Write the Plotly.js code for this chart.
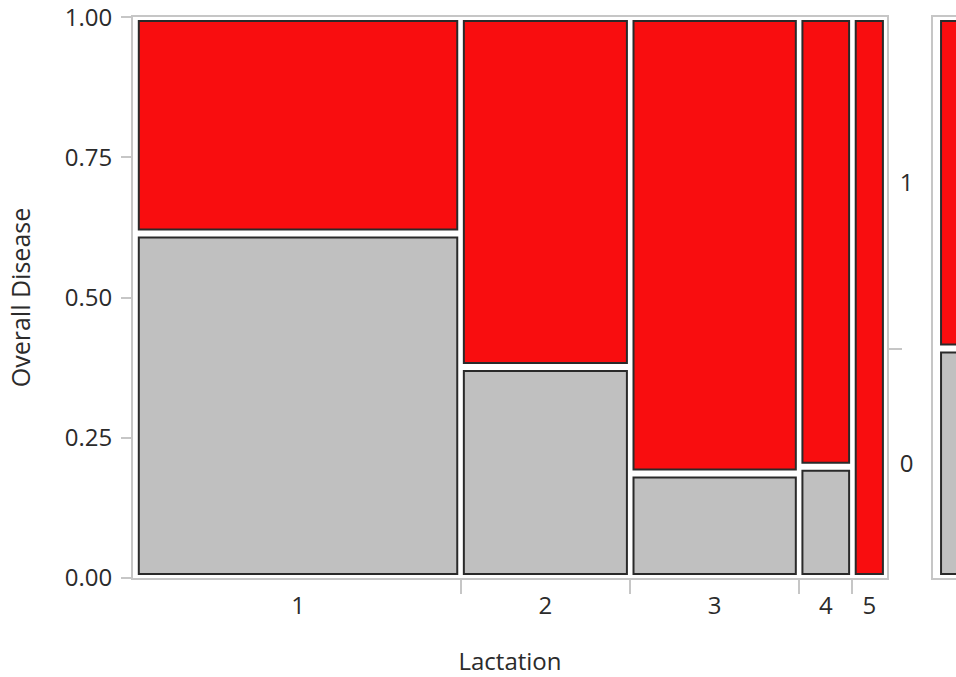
<!DOCTYPE html>
<html>
<head>
<meta charset="utf-8">
<script src="https://cdn.plot.ly/plotly-3.0.1.min.js"></script>
<style>html,body{margin:0;padding:0;background:#fff;}#chart{width:956px;height:677px;}</style>
</head>
<body>
<div id="chart"></div>
<script>
// ---- data ----
const lactation = ['1', '2', '3', '4', '5'];
const lactationShare = [0.433, 0.226, 0.225, 0.071, 0.045];   // column widths (share of cows)
const diseaseZeroShare = [0.614, 0.376, 0.186, 0.198, 0.0];   // proportion with Overall Disease = 0
const overallZeroShare = 0.409;                                 // marginal proportion Overall Disease = 0
const diseaseLevels = ['0', '1'];
const yTickVals = [0, 0.25, 0.5, 0.75, 1];

// ---- geometry helpers (derived from the data) ----
const plotW = 754, plotH = 561, unitPx = 750.7;
const insetX = 3.3 / unitPx, insetY = 4 / plotH;
const padL = 2.5 / unitPx, padR = 0.8 / unitPx;
const starts = [];
let acc = 0;
lactationShare.forEach(s => { starts.push(acc); acc += s; });
const centers = starts.map((s, i) => s + lactationShare[i] / 2);
const widths = lactationShare.map(s => s - 2 * insetX);
const boundaries = starts.slice(1);

const grayBase = diseaseZeroShare.map(p => p > 0 ? insetY : null);
const grayH = diseaseZeroShare.map(p => p > 0 ? p - 2 * insetY : null);
const redBase = diseaseZeroShare.map(p => p > 0 ? p + insetY : insetY);
const redH = diseaseZeroShare.map(p => p > 0 ? 1 - p - 2 * insetY : 1 - 2 * insetY);

const RED = '#f90d0f', GRAY = '#c0c0c0', EDGE = '#2a2a2a', FRAME = '#c6c6c6';
const FONT = {family: 'Open Sans, Noto Sans, sans-serif', size: 24, color: '#2b2b2b'};
const TITLEFONT = {family: 'Open Sans, Noto Sans, sans-serif', size: 25, color: '#2b2b2b'};

const traces = [
  {type: 'bar', x: centers, y: grayH, base: grayBase, width: widths, name: diseaseLevels[0],
   marker: {color: GRAY, line: {color: EDGE, width: 2}}, hoverinfo: 'skip', xaxis: 'x', yaxis: 'y'},
  {type: 'bar', x: centers, y: redH, base: redBase, width: widths, name: diseaseLevels[1],
   marker: {color: RED, line: {color: EDGE, width: 2}}, hoverinfo: 'skip', xaxis: 'x', yaxis: 'y'},
  // overall ("all") panel on the far right, clipped by the page edge
  {type: 'bar', x: [1.0], y: [overallZeroShare - 2 * insetY], base: [insetY], width: [1.3],
   marker: {color: GRAY, line: {color: EDGE, width: 2}}, hoverinfo: 'skip', xaxis: 'x2', yaxis: 'y'},
  {type: 'bar', x: [1.0], y: [1 - overallZeroShare - 2 * insetY], base: [overallZeroShare + insetY], width: [1.3],
   marker: {color: RED, line: {color: EDGE, width: 2}}, hoverinfo: 'skip', xaxis: 'x2', yaxis: 'y'},
  // invisible helpers so the extra axes render
  {type: 'scatter', x: [0.5], y: [0.5], mode: 'markers', marker: {opacity: 0}, hoverinfo: 'skip', xaxis: 'x', yaxis: 'y2'},
  {type: 'scatter', x: [0.5], y: [0.5], mode: 'markers', marker: {opacity: 0}, hoverinfo: 'skip', xaxis: 'x2', yaxis: 'y3'}
];

const mainEnd = plotW / 823;
const allStart = 800 / 823;
const yRange = [-0.0002, 1.0002];

const layout = {
  width: 956, height: 677,
  margin: {l: 133, r: 0, t: 17, b: 99, pad: 0},
  paper_bgcolor: '#fff', plot_bgcolor: '#fff',
  showlegend: false,
  barmode: 'overlay',
  font: FONT,
  xaxis: {
    domain: [0, mainEnd], range: [-padL, 1 + padR], anchor: 'y',
    tickvals: centers, ticktext: lactation, ticks: '',
    minor: {tickvals: boundaries, ticks: 'outside', ticklen: 14, tickwidth: 2, tickcolor: FRAME, showgrid: false},
    showgrid: false, zeroline: false,
    showline: true, mirror: true, linecolor: FRAME, linewidth: 2,
    tickfont: FONT, ticklabelstandoff: 5,
    title: {text: 'Lactation', font: FONT, standoff: 35}
  },
  xaxis2: {
    domain: [allStart, 1], range: [0, 1], anchor: 'y',
    showticklabels: false, ticks: '', showgrid: false, zeroline: false,
    showline: true, mirror: true, linecolor: FRAME, linewidth: 2
  },
  yaxis: {
    domain: [0, 1], range: yRange, anchor: 'x',
    tickvals: yTickVals, tickformat: '.2f',
    ticks: 'outside', ticklen: 10, tickwidth: 2, tickcolor: FRAME,
    showgrid: false, zeroline: false,
    showline: true, linecolor: FRAME, linewidth: 2,
    tickfont: FONT, ticklabelstandoff: 4, ticklabeloverflow: 'allow',
    title: {text: 'Overall Disease', font: TITLEFONT, standoff: 27}
  },
  yaxis2: {
    overlaying: 'y', anchor: 'x', side: 'right', range: yRange,
    tickvals: [overallZeroShare / 2, (1 + overallZeroShare) / 2], ticktext: diseaseLevels,
    ticks: '',
    minor: {tickvals: [overallZeroShare], ticks: 'outside', ticklen: 13, tickwidth: 2, tickcolor: FRAME, showgrid: false},
    showgrid: false, zeroline: false,
    showline: true, linecolor: FRAME, linewidth: 2,
    tickfont: FONT, ticklabelstandoff: 6
  },
  yaxis3: {
    overlaying: 'y', anchor: 'x2', side: 'left', range: yRange,
    showticklabels: false, ticks: '', showgrid: false, zeroline: false,
    showline: true, linecolor: FRAME, linewidth: 2
  }
};

Plotly.newPlot('chart', traces, layout, {staticPlot: true, displayModeBar: false});
</script>
</body>
</html>
